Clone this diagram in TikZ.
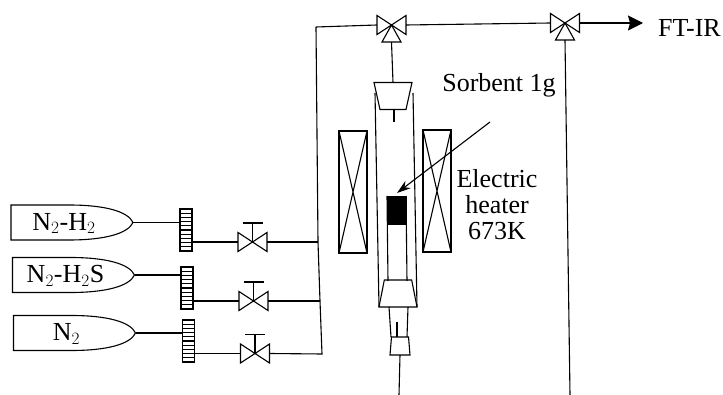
\documentclass[tikz,border=0pt]{standalone}
\usepackage{fontspec}
\setmainfont{Liberation Serif}
\usetikzlibrary{positioning, arrows.meta, shapes.geometric}

\tikzset{
  line/.style={line width=1.1pt},
  valve/.style={minimum width=29, minimum height=19, inner sep=0, outer sep=0},
  bottle/.style={minimum width=122, minimum height=35, inner sep=0, outer sep=0},
  filterbox/.style={draw, line width=1.1pt, minimum width=12, minimum height=42, inner sep=0, outer sep=0},
  heater/.style={draw, line width=1.1pt, minimum width=28, minimum height=122, inner sep=0, outer sep=0},
  stopper/.style={draw, line width=1.1pt, trapezium, trapezium stretches=true, inner sep=1pt, outer sep=0},
  label/.style={font=\fontsize{26}{26}\selectfont, inner sep=0}
}

\newcommand{\gatevalve}[2]{
  \node[valve] (#1) at (#2) {};
  \draw[line] (#1.south west) -- (#1.north east) -- (#1.south east) -- (#1.north west) -- cycle;
  \draw[line] (#1.center) -- ++(0,-19) ++(-10,0) -- ++(20,0);
}
\newcommand{\threeway}[2]{
  \node[valve] (#1) at (#2) {};
  \draw[line] (#1.south west) -- (#1.north east) -- (#1.south east) -- (#1.north west) -- cycle;
  \draw[line] (#1.center) -- ++(-9.5,17) -- ++(19,0) -- cycle;
  \coordinate (#1b) at ([yshift=-7.5pt]#1.south);
}
\newcommand{\gasbottle}[3]{
  \node[bottle] (#1) at (#2) {};
  \draw[line] (#1.south west) -- (#1.north west) -- ++(58,0)
    .. controls ++(36,0) and ++(-5,-11) .. (#1.east)
    .. controls ++(-5,11) and ++(36,0) .. ([xshift=58pt]#1.south west) -- cycle;
  \node[label] at ([xshift=-8pt,yshift=-1pt]#1.center) {#3};
}
\newcommand{\filterbank}[2]{
  \node[filterbox] (#1) at (#2) {};
  \foreach \k in {1,...,9}
    \draw[line] ([yshift=\k*4.2pt]#1.south west) -- ([yshift=\k*4.2pt]#1.south east);
}
\newcommand{\heaterbox}[2]{
  \node[heater] (#1) at (#2) {};
  \draw[line] (#1.north west) -- (#1.south east) (#1.north east) -- (#1.south west);
}

\begin{document}
\begin{tikzpicture}[x=1pt, y=-1pt]
    \useasboundingbox (0,0) rectangle (723,395);

    % gas supply
    \gasbottle{bA}{72,222.5}{N$_2$-H$_2$}
    \gasbottle{bB}{73.5,275}{N$_2$-H$_2$S}
    \gasbottle{bC}{74.5,333}{N$_2$}

    \filterbank{fA}{186,230}
    \filterbank{fB}{187,288}
    \filterbank{fC}{188.5,341}

    \gatevalve{vA}{252.5,242}
    \gatevalve{vB}{253.5,301}
    \gatevalve{vC}{255,353.5}

    \path[line] (bA.east) edge (fA.west |- bA.east)
          (bB.east) edge (fB.west |- bB.east)
          (bC.east) edge (fC.west |- bC.east);
    \coordinate (jA) at (318,242);
    \coordinate (jB) at (320,301);
    \coordinate (jC) at (322,354);
    \coordinate (jT) at (316,27);
    \draw[line] (fA.east |- vA) -- (vA.west);
    \draw[line] (fB.east |- vB) -- (vB.west);
    \draw[line] (fC.east |- vC) -- (vC.west);
    \draw[line] (vA.east) -- (jA);
    \draw[line] (vB.east) -- (jB);
    \draw[line] (vC.east) -- (jC) -- (jB) -- (jA) -- (jT);

    % top line
    \threeway{vT}{391.5,25}
    \threeway{vO}{565,23}
    \coordinate (ftir) at (643,23);
    \draw[line] (jT) -- (vT.west);
    \draw[line] (vT.east) -- (vO.west);
    \draw[line, -{Stealth[length=15pt, width=15pt, inset=2pt]}] (vO.east) -- (ftir);
    \node[label, anchor=west] (ft) at (658,28) {FT-IR};

    % reactor
    \node[stopper, shape border rotate=180, trapezium angle=77, minimum width=38, minimum height=27] (top) at (393,96) {};
    \node[stopper, trapezium angle=79, minimum width=38, minimum height=27] (low) at (398,293.5) {};
    \node[stopper, trapezium angle=85, minimum width=20, minimum height=18] (end) at (400,346) {};
    \draw[line] (vTb) -- (top.north);
    \draw[line] (394,110) -- (394,122);
    \draw[line] (375,93) -- (379,307);
    \draw[line] (413,93) -- (417,307);
    \heaterbox{hL}{353,192}
    \heaterbox{hR}{437,191}

    % sorbent bed
    \draw[line] (387,196) -- (388,281);
    \draw[line] (406,196) -- (407,281);
    \fill (386.5,196) rectangle (406.5,225);
    \draw[line] (389,307) -- (391,337);
    \draw[line] (408,307) -- (407,337);
    \draw[line] (397,322) -- (397,337);
    \coordinate (outA) at (399,395);
    \draw[line] (end.south) -- (outA);

    % second line
    \coordinate (outB) at (570,395);
    \draw[line] (vOb) -- (outB);

    \node[label] (sorb) at (499,85) {Sorbent 1g};
    \node[label] (elec) at (497,179) {Electric};
    \node[label] (heat) at (497,205) {heater};
    \node[label] (temp) at (497,231) {673K};
    \coordinate (pA) at (490,122);
    \coordinate (pB) at (397,193);
    \draw[line, -{Stealth[length=14pt, width=9pt]}] (pA) -- (pB);
\end{tikzpicture}
\end{document}
